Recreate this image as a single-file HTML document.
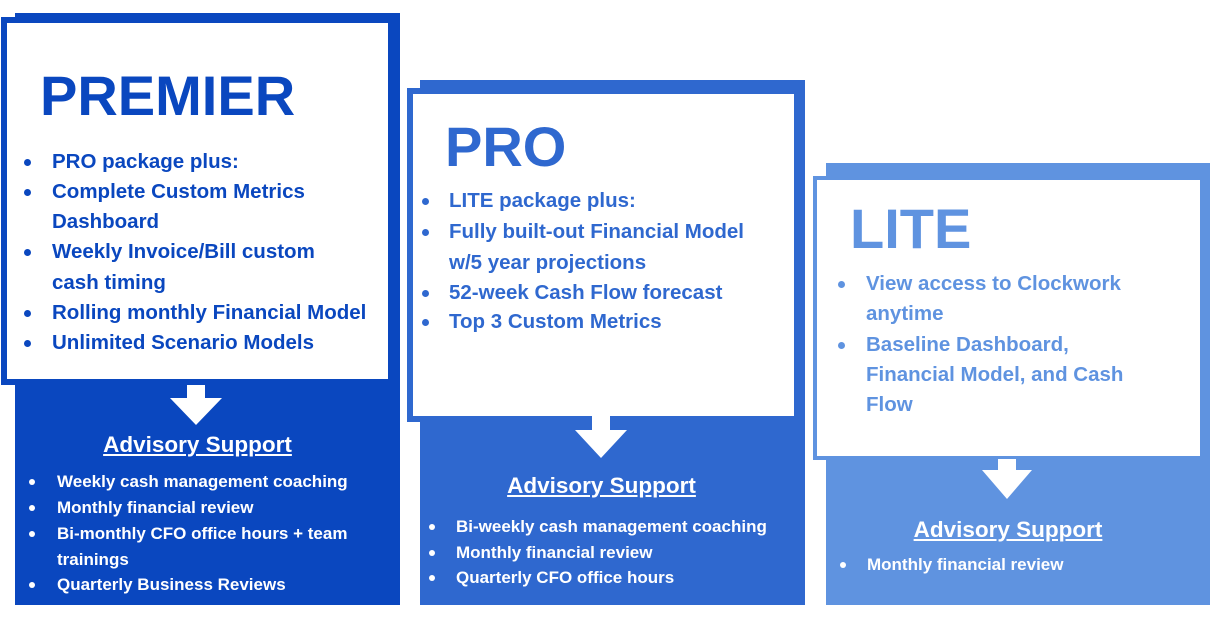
<!DOCTYPE html>
<html><head><meta charset="utf-8"><style>
body{margin:0;width:1215px;height:629px;background:#fff;position:relative;overflow:hidden;font-family:"Liberation Sans",Arial,sans-serif;font-weight:bold}
div{position:absolute}
.t{white-space:nowrap;line-height:30px;height:30px}
.h{font-size:56px;line-height:60px}
.b{font-size:20.5px}
.s{font-size:17px;color:#fff;line-height:26px;height:26px}
.a{font-size:22.5px;color:#fff;text-decoration:underline;line-height:30px}
.d{width:7px;height:7px;border-radius:50%}
</style></head><body>
<!-- PREMIER -->
<div style="left:15px;top:13px;width:385px;height:592px;background:#0a47bf"></div>
<div style="left:1px;top:17px;width:381px;height:356px;border:6px solid #0a47bf;background:#fff"></div>
<svg style="position:absolute;left:0;top:0" width="1215" height="629">
<polygon points="187,385 205,385 205,398 222,398 196,425 170,398 187,398" fill="#fff"/>
<polygon points="592,416 610,416 610,430 627,430 601,458 575,430 592,430" fill="#fff"/>
<polygon points="998,459 1016,459 1016,470 1032,470 1007,499 982,470 998,470" fill="#fff"/>
</svg>
<div class="t h" style="left:40px;top:66px;color:#0a47bf">PREMIER</div>
<div class="t b" style="left:52px;top:147px;color:#0a47bf">PRO package plus:</div>
<div class="t b" style="left:52px;top:177px;color:#0a47bf">Complete Custom Metrics</div>
<div class="t b" style="left:52px;top:207px;color:#0a47bf">Dashboard</div>
<div class="t b" style="left:52px;top:237px;color:#0a47bf">Weekly Invoice/Bill custom</div>
<div class="t b" style="left:52px;top:268px;color:#0a47bf">cash timing</div>
<div class="t b" style="left:52px;top:298px;color:#0a47bf">Rolling monthly Financial Model</div>
<div class="t b" style="left:52px;top:328px;color:#0a47bf">Unlimited Scenario Models</div>
<div class="d" style="left:24px;top:159px;background:#0a47bf"></div>
<div class="d" style="left:24px;top:189px;background:#0a47bf"></div>
<div class="d" style="left:24px;top:249px;background:#0a47bf"></div>
<div class="d" style="left:24px;top:310px;background:#0a47bf"></div>
<div class="d" style="left:24px;top:340px;background:#0a47bf"></div>
<div class="t a" style="left:5px;width:385px;text-align:center;top:430px">Advisory Support</div>
<div class="t s" style="left:57px;top:469px">Weekly cash management coaching</div>
<div class="t s" style="left:57px;top:495px">Monthly financial review</div>
<div class="t s" style="left:57px;top:521px">Bi-monthly CFO office hours + team</div>
<div class="t s" style="left:57px;top:547px">trainings</div>
<div class="t s" style="left:57px;top:572px">Quarterly Business Reviews</div>
<div class="d" style="left:29px;top:479px;background:#fff;width:6px;height:6px"></div>
<div class="d" style="left:29px;top:505px;background:#fff;width:6px;height:6px"></div>
<div class="d" style="left:29px;top:531px;background:#fff;width:6px;height:6px"></div>
<div class="d" style="left:29px;top:582px;background:#fff;width:6px;height:6px"></div>
<!-- PRO -->
<div style="left:420px;top:80px;width:385px;height:525px;background:#2f68cf;z-index:-1"></div>
<div style="left:407px;top:88px;width:381px;height:322px;border:6px solid #2f68cf;background:#fff;z-index:-1"></div>
<div class="t h" style="left:445px;top:117px;color:#2f68cf">PRO</div>
<div class="t b" style="left:449px;top:186px;color:#2f68cf">LITE package plus:</div>
<div class="t b" style="left:449px;top:217px;color:#2f68cf">Fully built-out Financial Model</div>
<div class="t b" style="left:449px;top:248px;color:#2f68cf">w/5 year projections</div>
<div class="t b" style="left:449px;top:278px;color:#2f68cf">52-week Cash Flow forecast</div>
<div class="t b" style="left:449px;top:307px;color:#2f68cf">Top 3 Custom Metrics</div>
<div class="d" style="left:422px;top:198px;background:#2f68cf"></div>
<div class="d" style="left:422px;top:229px;background:#2f68cf"></div>
<div class="d" style="left:422px;top:290px;background:#2f68cf"></div>
<div class="d" style="left:422px;top:319px;background:#2f68cf"></div>
<div class="t a" style="left:409px;width:385px;text-align:center;top:471px">Advisory Support</div>
<div class="t s" style="left:456px;top:514px">Bi-weekly cash management coaching</div>
<div class="t s" style="left:456px;top:540px">Monthly financial review</div>
<div class="t s" style="left:456px;top:565px">Quarterly CFO office hours</div>
<div class="d" style="left:429px;top:524px;background:#fff;width:6px;height:6px"></div>
<div class="d" style="left:429px;top:550px;background:#fff;width:6px;height:6px"></div>
<div class="d" style="left:429px;top:575px;background:#fff;width:6px;height:6px"></div>
<!-- LITE -->
<div style="left:826px;top:163px;width:384px;height:442px;background:#5f93e0;z-index:-1"></div>
<div style="left:813px;top:176px;width:383px;height:276px;border:4px solid #5f93e0;background:#fff;z-index:-1"></div>
<div class="t h" style="left:850px;top:199px;color:#5f93e0">LITE</div>
<div class="t b" style="left:866px;top:269px;color:#5f93e0">View access to Clockwork</div>
<div class="t b" style="left:866px;top:299px;color:#5f93e0">anytime</div>
<div class="t b" style="left:866px;top:330px;color:#5f93e0">Baseline Dashboard,</div>
<div class="t b" style="left:866px;top:360px;color:#5f93e0">Financial Model, and Cash</div>
<div class="t b" style="left:866px;top:390px;color:#5f93e0">Flow</div>
<div class="d" style="left:838px;top:281px;background:#5f93e0"></div>
<div class="d" style="left:838px;top:342px;background:#5f93e0"></div>
<div class="t a" style="left:816px;width:384px;text-align:center;top:515px">Advisory Support</div>
<div class="t s" style="left:867px;top:552px">Monthly financial review</div>
<div class="d" style="left:840px;top:562px;background:#fff;width:6px;height:6px"></div>
</body></html>
